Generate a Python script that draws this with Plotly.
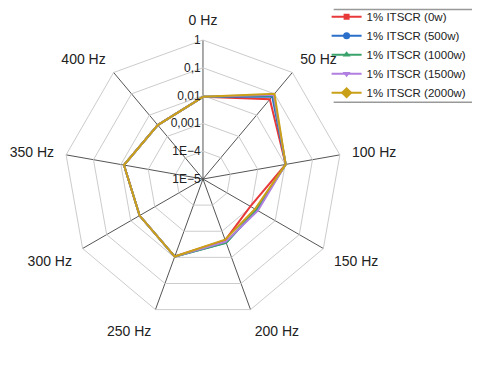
import plotly.graph_objects as go

categories = ["0 Hz", "50 Hz", "100 Hz", "150 Hz", "200 Hz", "250 Hz", "300 Hz", "350 Hz", "400 Hz"]

itscr_0w = [0.009, 0.055, 0.0105, 0.00093, 0.0022, 0.0093, 0.0043, 0.0077, 0.0034]
itscr_500w = [0.009, 0.075, 0.0105, 0.0017, 0.0027, 0.0093, 0.0043, 0.0077, 0.0034]
itscr_1000w = [0.009, 0.085, 0.0105, 0.0016, 0.0028, 0.0093, 0.0043, 0.0077, 0.0034]
itscr_1500w = [0.009, 0.09, 0.0105, 0.0019, 0.0025, 0.0093, 0.0043, 0.0077, 0.0034]
itscr_2000w = [0.009, 0.1, 0.0105, 0.00145, 0.0021, 0.0093, 0.0043, 0.0077, 0.0034]

radial_ticks = [1e-5, 1e-4, 1e-3, 1e-2, 1e-1, 1]
radial_labels = ["1E\u22125", "1E\u22124", "0,001", "0,01", "0,1", "1"]

series = [
    ("1% ITSCR (0w)", itscr_0w, "#e8393a", "square", 6),
    ("1% ITSCR (500w)", itscr_500w, "#2a6fc9", "circle", 7),
    ("1% ITSCR (1000w)", itscr_1000w, "#3aa36b", "triangle-up", 7),
    ("1% ITSCR (1500w)", itscr_1500w, "#b07fe0", "triangle-down", 7),
    ("1% ITSCR (2000w)", itscr_2000w, "#c9a018", "diamond", 9),
]

fig = go.Figure()
for name, vals, color, symbol, size in series:
    fig.add_trace(go.Scatterpolar(
        r=vals + vals[:1],
        theta=categories + categories[:1],
        name=name,
        mode="lines+markers",
        line=dict(color=color, width=2),
        marker=dict(symbol=symbol, size=size, color=color),
    ))

# page body keeps its 8px margin, so the figure is 8px smaller than the window
fig.update_layout(
    width=472, height=360,
    margin=dict(l=0, r=0, t=0, b=0, autoexpand=False),
    paper_bgcolor="white",
    font=dict(family="Liberation Sans, Arial", color="#222"),
    polar=dict(
        domain=dict(x=[0.1186, 0.7076], y=[0.1389, 0.9111]),
        bgcolor="white",
        gridshape="linear",
        angularaxis=dict(
            rotation=90, direction="clockwise",
            categoryorder="array", categoryarray=categories,
            linecolor="#cccccc", gridcolor="#555555", gridwidth=1,
            showline=True, ticks="outside", ticklen=9,
            tickcolor="rgba(0,0,0,0)",
            tickfont=dict(size=14, color="#222"),
        ),
        radialaxis=dict(
            type="log", range=[-5, 0], angle=90, tickangle=90,
            side="counterclockwise",
            tickvals=radial_ticks, ticktext=radial_labels,
            gridcolor="#cccccc", showline=False, ticks="",
            tickfont=dict(size=12, color="#222"),
        ),
    ),
    legend=dict(
        x=0.675, y=1.016, xanchor="left", yanchor="top",
        font=dict(size=11.5, color="#222"),
        bgcolor="rgba(0,0,0,0)", tracegroupgap=0,
    ),
    shapes=[
        dict(type="line", xref="paper", yref="paper", x0=0.69, x1=1, y0=0.996, y1=0.996,
             line=dict(color="#999999", width=1.5)),
        dict(type="line", xref="paper", yref="paper", x0=0.69, x1=1, y0=0.738, y1=0.738,
             line=dict(color="#999999", width=1.5)),
    ],
)

fig.write_html("out.html")
